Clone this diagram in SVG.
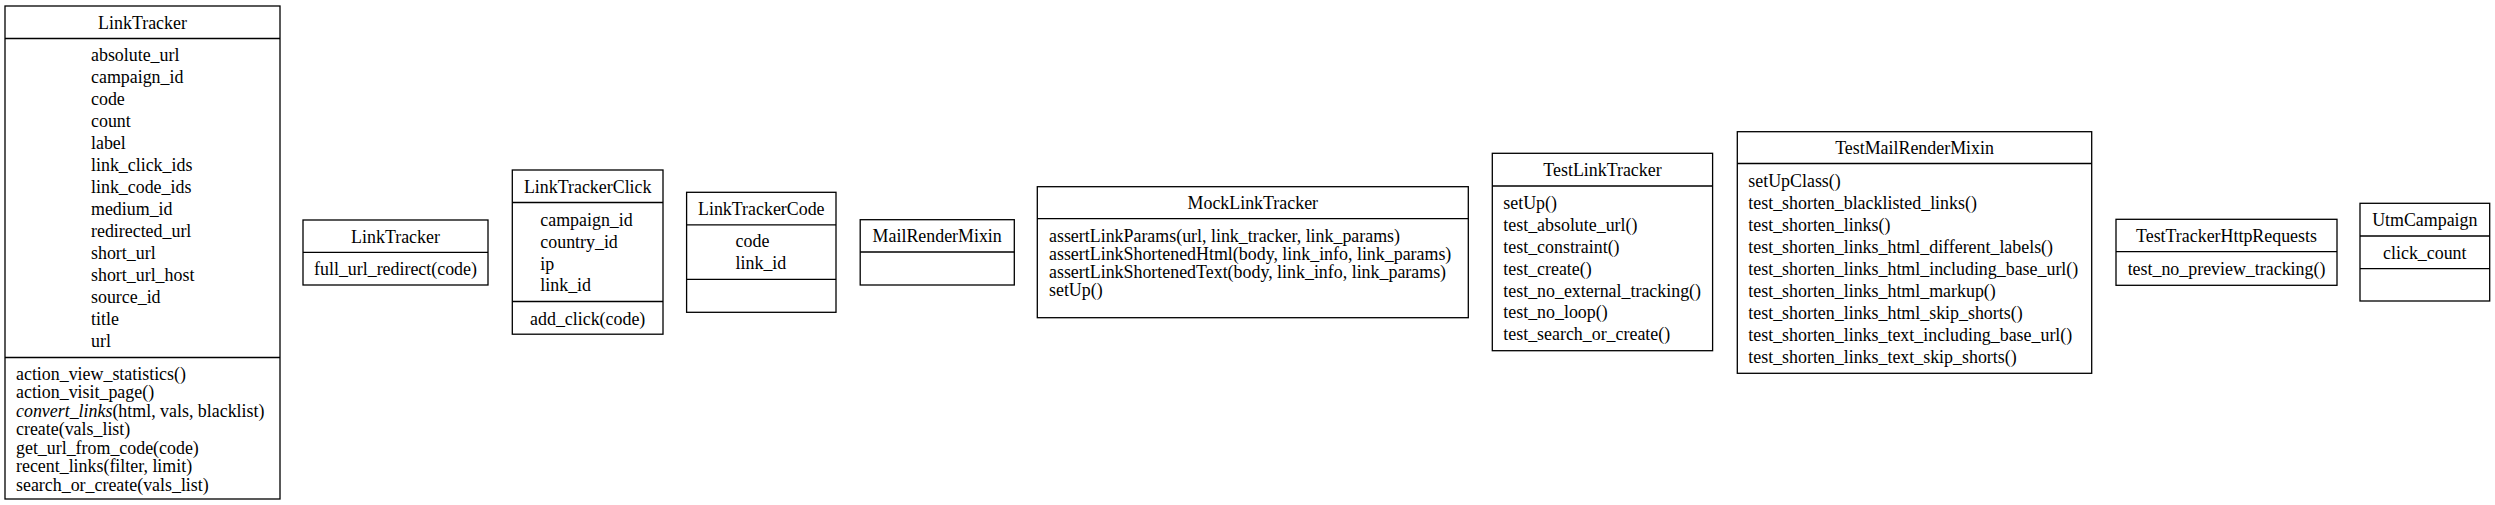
<svg xmlns="http://www.w3.org/2000/svg" width="2495" height="505" viewBox="0 0 2495 505">
<style>
text { font-family: "Liberation Serif", "Times New Roman", serif; font-size: 17.9px; fill: #000; }
.t { text-anchor: middle; }
.box { fill: #fff; stroke: #000; stroke-width: 1.3; }
.sep { stroke: #000; stroke-width: 1.3; }
</style>
<rect width="2495" height="505" fill="#fff"/>
<g id="connectors"></g>

<g id="LinkTracker">
<rect class="box" x="5" y="6" width="275" height="493"/>
<line class="sep" x1="5" y1="38.5" x2="280" y2="38.5"/>
<line class="sep" x1="5" y1="357.5" x2="280" y2="357.5"/>
<text class="t" x="142.5" y="29">LinkTracker</text>
<text x="91" y="60.7">absolute_url</text>
<text x="91" y="82.7">campaign_id</text>
<text x="91" y="104.7">code</text>
<text x="91" y="126.7">count</text>
<text x="91" y="148.7">label</text>
<text x="91" y="170.7">link_click_ids</text>
<text x="91" y="192.7">link_code_ids</text>
<text x="91" y="214.7">medium_id</text>
<text x="91" y="236.7">redirected_url</text>
<text x="91" y="258.7">short_url</text>
<text x="91" y="280.7">short_url_host</text>
<text x="91" y="302.7">source_id</text>
<text x="91" y="324.7">title</text>
<text x="91" y="346.7">url</text>
<text x="16" y="379.5">action_view_statistics()</text>
<text x="16" y="398">action_visit_page()</text>
<text x="16" y="416.6"><tspan font-style="italic">convert_links</tspan>(html, vals, blacklist)</text>
<text x="16" y="435.1">create(vals_list)</text>
<text x="16" y="453.7">get_url_from_code(code)</text>
<text x="16" y="472.2">recent_links(filter, limit)</text>
<text x="16" y="490.8">search_or_create(vals_list)</text>
</g>

<g id="LinkTracker2">
<rect class="box" x="303" y="220" width="185" height="65"/>
<line class="sep" x1="303" y1="252.3" x2="488" y2="252.3"/>
<text class="t" x="395.5" y="242.5">LinkTracker</text>
<text class="t" x="395.5" y="275">full_url_redirect(code)</text>
</g>

<g id="LinkTrackerClick">
<rect class="box" x="512.3" y="170" width="150.7" height="164.2"/>
<line class="sep" x1="512.3" y1="202.5" x2="663" y2="202.5"/>
<line class="sep" x1="512.3" y1="301.5" x2="663" y2="301.5"/>
<text class="t" x="587.7" y="193.3">LinkTrackerClick</text>
<text x="540.3" y="226.4">campaign_id</text>
<text x="540.3" y="248">country_id</text>
<text x="540.3" y="269.6">ip</text>
<text x="540.3" y="291.3">link_id</text>
<text class="t" x="587.7" y="324.6">add_click(code)</text>
</g>

<g id="LinkTrackerCode">
<rect class="box" x="686.6" y="192.3" width="149.4" height="120"/>
<line class="sep" x1="686.6" y1="224.8" x2="836" y2="224.8"/>
<line class="sep" x1="686.6" y1="279.3" x2="836" y2="279.3"/>
<text class="t" x="761.3" y="215">LinkTrackerCode</text>
<text x="735.6" y="247.3">code</text>
<text x="735.6" y="269">link_id</text>
</g>

<g id="MailRenderMixin">
<rect class="box" x="860.2" y="219.7" width="154.1" height="65.3"/>
<line class="sep" x1="860.2" y1="252" x2="1014.3" y2="252"/>
<text class="t" x="937.2" y="242">MailRenderMixin</text>
</g>

<g id="MockLinkTracker">
<rect class="box" x="1037.3" y="186.7" width="431" height="131"/>
<line class="sep" x1="1037.3" y1="218.7" x2="1468.3" y2="218.7"/>
<text class="t" x="1252.8" y="209">MockLinkTracker</text>
<text x="1049" y="241.5">assertLinkParams(url, link_tracker, link_params)</text>
<text x="1049" y="259.8">assertLinkShortenedHtml(body, link_info, link_params)</text>
<text x="1049" y="278.1">assertLinkShortenedText(body, link_info, link_params)</text>
<text x="1049" y="296.4">setUp()</text>
</g>

<g id="TestLinkTracker">
<rect class="box" x="1492.3" y="153.3" width="220.3" height="197.4"/>
<line class="sep" x1="1492.3" y1="186" x2="1712.6" y2="186"/>
<text class="t" x="1602.5" y="176">TestLinkTracker</text>
<text x="1503.3" y="209.3">setUp()</text>
<text x="1503.3" y="231.1">test_absolute_url()</text>
<text x="1503.3" y="252.9">test_constraint()</text>
<text x="1503.3" y="274.7">test_create()</text>
<text x="1503.3" y="296.5">test_no_external_tracking()</text>
<text x="1503.3" y="318.3">test_no_loop()</text>
<text x="1503.3" y="340.1">test_search_or_create()</text>
</g>

<g id="TestMailRenderMixin">
<rect class="box" x="1737.3" y="131.7" width="354.4" height="241.6"/>
<line class="sep" x1="1737.3" y1="163.5" x2="2091.7" y2="163.5"/>
<text class="t" x="1914.5" y="153.5">TestMailRenderMixin</text>
<text x="1748.3" y="186.7">setUpClass()</text>
<text x="1748.3" y="208.7">test_shorten_blacklisted_links()</text>
<text x="1748.3" y="230.7">test_shorten_links()</text>
<text x="1748.3" y="252.7">test_shorten_links_html_different_labels()</text>
<text x="1748.3" y="274.7">test_shorten_links_html_including_base_url()</text>
<text x="1748.3" y="296.7">test_shorten_links_html_markup()</text>
<text x="1748.3" y="318.7">test_shorten_links_html_skip_shorts()</text>
<text x="1748.3" y="340.7">test_shorten_links_text_including_base_url()</text>
<text x="1748.3" y="362.7">test_shorten_links_text_skip_shorts()</text>
</g>

<g id="TestTrackerHttpRequests">
<rect class="box" x="2116" y="219.3" width="221" height="66"/>
<line class="sep" x1="2116" y1="251.7" x2="2337" y2="251.7"/>
<text class="t" x="2226.5" y="242">TestTrackerHttpRequests</text>
<text class="t" x="2226.5" y="274.5">test_no_preview_tracking()</text>
</g>

<g id="UtmCampaign">
<rect class="box" x="2360" y="203.3" width="129.7" height="97.7"/>
<line class="sep" x1="2360" y1="236" x2="2489.7" y2="236"/>
<line class="sep" x1="2360" y1="268.7" x2="2489.7" y2="268.7"/>
<text class="t" x="2424.8" y="226">UtmCampaign</text>
<text class="t" x="2424.8" y="258.5">click_count</text>
</g>
</svg>
